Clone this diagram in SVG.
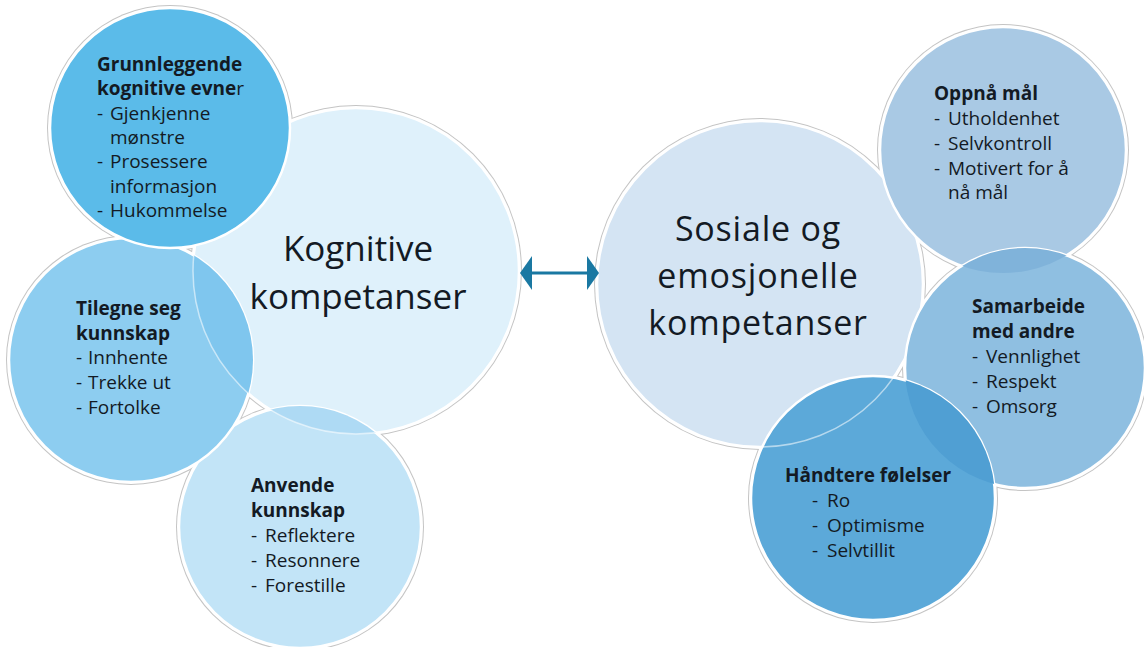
<svg xmlns="http://www.w3.org/2000/svg" width="1144" height="647" viewBox="0 0 1144 647">
  <style>
    .t { font-family: "Open Sans", "Noto Sans", "Liberation Sans", sans-serif; fill: #131a24; }
    .b { font-size: 19px; font-weight: 700; }
    .r { font-size: 19px; font-weight: 400; }
    .big { font-size: 35px; font-weight: 400; text-anchor: middle; }
    .big2 { font-size: 34px; font-weight: 400; text-anchor: middle; letter-spacing: 0.8px; }
    .edge { stroke: #ffffff; stroke-width: 2.5; }
    .outline { fill: #c4c4c4; }
    .halo { fill: #ffffff; }
    .seam { fill: none; stroke: #ffffff; stroke-opacity: 0.55; stroke-width: 1.5; }
  </style>
  <defs>
    <clipPath id="clipTI"><circle cx="131" cy="360" r="122"/></clipPath>
    <clipPath id="clipAN"><circle cx="300" cy="527" r="121"/></clipPath>
    <clipPath id="clipSA"><circle cx="1025" cy="368" r="120"/></clipPath>
    <clipPath id="clipHF"><circle cx="873" cy="498" r="122"/></clipPath>
    <marker id="head" markerUnits="userSpaceOnUse" markerWidth="13" markerHeight="36" refX="0" refY="17" orient="auto-start-reverse" viewBox="0 0 13 36">
      <path d="M0,0 L12,17 L0,34 Z" fill="#1a78a2"/>
    </marker>
  </defs>

  <rect width="1144" height="647" fill="#ffffff"/>

  <g id="outlines">
    <circle class="outline" cx="356" cy="271" r="166"/>
    <circle class="outline" cx="131" cy="360" r="125"/>
    <circle class="outline" cx="300" cy="527" r="124"/>
    <circle class="outline" cx="170" cy="128" r="123"/>
    <circle class="outline" cx="760" cy="284" r="166"/>
    <circle class="outline" cx="1003" cy="150" r="126"/>
    <circle class="outline" cx="1025" cy="368" r="123"/>
    <circle class="outline" cx="873" cy="498" r="125"/>
    <circle class="halo" cx="356" cy="271" r="165"/>
    <circle class="halo" cx="131" cy="360" r="124"/>
    <circle class="halo" cx="300" cy="527" r="123"/>
    <circle class="halo" cx="170" cy="128" r="122"/>
    <circle class="halo" cx="760" cy="284" r="165"/>
    <circle class="halo" cx="1003" cy="150" r="125"/>
    <circle class="halo" cx="1025" cy="368" r="122"/>
    <circle class="halo" cx="873" cy="498" r="124"/>
  </g>

  <g id="kognitive">
    <circle class="edge" cx="356" cy="271" r="163" fill="#dff1fb"/>
    <text class="t big" x="358" y="261">Kognitive</text>
    <text class="t big" x="358" y="309">kompetanser</text>
  </g>

  <g id="anvende">
    <circle class="edge" cx="300" cy="527" r="121" fill="#c2e4f7"/>
    <circle cx="356" cy="271" r="163" fill="#aedaf4" clip-path="url(#clipAN)"/>
    <circle class="seam" cx="356" cy="271" r="163" clip-path="url(#clipAN)"/>
    <text class="t b" x="251" y="492">Anvende</text>
    <text class="t b" x="251" y="517">kunnskap</text>
    <text class="t r" y="542"><tspan x="251">-</tspan><tspan x="265">Reflektere</tspan></text>
    <text class="t r" y="567"><tspan x="251">-</tspan><tspan x="265">Resonnere</tspan></text>
    <text class="t r" y="592"><tspan x="251">-</tspan><tspan x="265">Forestille</tspan></text>
  </g>

  <g id="tilegne">
    <circle class="edge" cx="131" cy="360" r="122" fill="#8dcdf0"/>
    <circle cx="356" cy="271" r="163" fill="#7fc6ee" clip-path="url(#clipTI)"/>
    <circle class="seam" cx="356" cy="271" r="163" clip-path="url(#clipTI)"/>
    <text class="t b" x="76" y="315">Tilegne seg</text>
    <text class="t b" x="76" y="340">kunnskap</text>
    <text class="t r" y="364"><tspan x="76">-</tspan><tspan x="88">Innhente</tspan></text>
    <text class="t r" y="389"><tspan x="76">-</tspan><tspan x="88">Trekke ut</tspan></text>
    <text class="t r" y="414"><tspan x="76">-</tspan><tspan x="88">Fortolke</tspan></text>
  </g>

  <g id="grunnleggende">
    <circle class="edge" cx="170" cy="128" r="120" fill="#5bbbe9"/>
    <text class="t b" x="97" y="71">Grunnleggende</text>
    <text class="t b" x="97" y="95">kognitive evne<tspan font-weight="400">r</tspan></text>
    <text class="t r" y="120"><tspan x="97">-</tspan><tspan x="110">Gjenkjenne</tspan></text>
    <text class="t r" x="110" y="144">mønstre</text>
    <text class="t r" y="168"><tspan x="97">-</tspan><tspan x="110">Prosessere</tspan></text>
    <text class="t r" x="110" y="193">informasjon</text>
    <text class="t r" y="217"><tspan x="97">-</tspan><tspan x="110">Hukommelse</tspan></text>
  </g>

  <g id="sosiale">
    <circle class="edge" cx="760" cy="284" r="163" fill="#d4e4f3"/>
    <text class="t big2" x="758" y="241">Sosiale og</text>
    <text class="t big2" x="758" y="288">emosjonelle</text>
    <text class="t big2" x="758" y="335">kompetanser</text>
  </g>

  <g id="oppna">
    <circle class="edge" cx="1003" cy="150" r="123" fill="#a9c9e4"/>
    <text class="t b" x="934" y="100">Oppnå mål</text>
    <text class="t r" y="125"><tspan x="934">-</tspan><tspan x="948">Utholdenhet</tspan></text>
    <text class="t r" y="150"><tspan x="934">-</tspan><tspan x="948">Selvkontroll</tspan></text>
    <text class="t r" y="175"><tspan x="934">-</tspan><tspan x="948">Motivert for å</tspan></text>
    <text class="t r" x="948" y="199">nå mål</text>
  </g>

  <g id="samarbeide">
    <circle class="edge" cx="1025" cy="368" r="120" fill="#8fbfe1"/>
    <circle cx="1003" cy="150" r="123" fill="#80b3da" clip-path="url(#clipSA)"/>
    <text class="t b" x="972" y="313">Samarbeide</text>
    <text class="t b" x="972" y="338">med andre</text>
    <text class="t r" y="363"><tspan x="972">-</tspan><tspan x="986">Vennlighet</tspan></text>
    <text class="t r" y="388"><tspan x="972">-</tspan><tspan x="986">Respekt</tspan></text>
    <text class="t r" y="413"><tspan x="972">-</tspan><tspan x="986">Omsorg</tspan></text>
  </g>

  <g id="handtere">
    <circle class="edge" cx="873" cy="498" r="122" fill="#5ca9d9"/>
    <circle cx="1025" cy="368" r="120" fill="#509fd3" clip-path="url(#clipHF)"/>
    <circle class="seam" cx="760" cy="284" r="163" stroke-opacity="0.25" clip-path="url(#clipHF)"/>
    <text class="t b" x="785" y="482">Håndtere følelser</text>
    <text class="t r" y="507"><tspan x="812">-</tspan><tspan x="827">Ro</tspan></text>
    <text class="t r" y="532"><tspan x="812">-</tspan><tspan x="827">Optimisme</tspan></text>
    <text class="t r" y="557"><tspan x="812">-</tspan><tspan x="827">Selvtillit</tspan></text>
  </g>

  <g id="connectors">
    <line x1="532" y1="273" x2="587" y2="273" stroke="#1a78a2" stroke-width="3" marker-start="url(#head)" marker-end="url(#head)"/>
  </g>
</svg>
